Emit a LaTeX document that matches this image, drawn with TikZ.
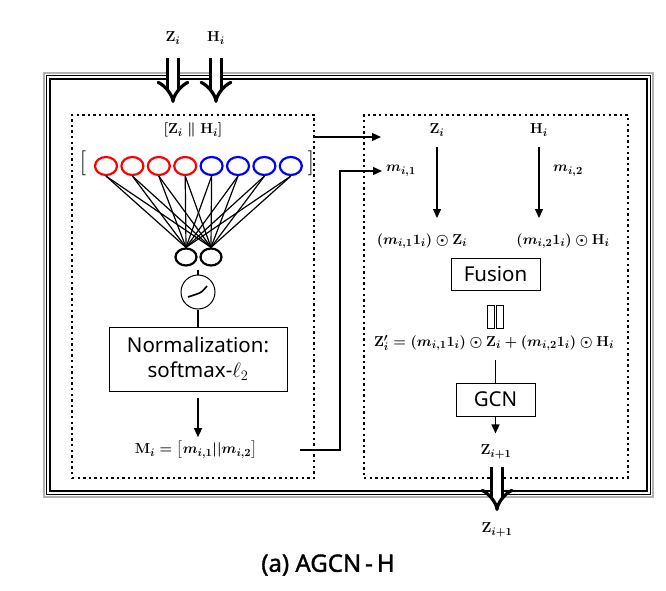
\documentclass[tikz,border=0pt]{standalone}
\usepackage{amsmath}
\usepackage{fontspec}
\newfontfamily\sansui{Noto Sans}
\newfontfamily\capfont[FakeBold=1.4]{Noto Sans}
\usetikzlibrary{positioning,arrows.meta,shapes.geometric}
\definecolor{cred}{HTML}{FF0000}
\definecolor{cblue}{HTML}{0000FF}
\tikzset{
  dotbox/.style={draw, line width=2.4pt, dash pattern=on 2.4pt off 3.2pt,
    minimum width=#1, minimum height=363pt, inner sep=0pt},
  unitnode/.style={ellipse, draw=#1, line width=2.2pt, minimum width=22pt,
    minimum height=18pt, inner sep=0pt},
  hidnode/.style={ellipse, draw, line width=2.2pt, minimum width=21pt,
    minimum height=17pt, inner sep=0pt},
  procbox/.style={draw, line width=0.9pt, align=center, inner sep=0pt,
    font=\sansui\fontsize{20.5}{25}\selectfont},
  mathlbl/.style={inner sep=1pt, font=\fontsize{15}{17}\selectfont\boldmath},
  flowarrow/.style={-{Triangle[length=9pt,width=8pt]}, line width=1.4pt},
  bigarrow/.style={-{Implies}, double, double distance=8pt, line width=3.2pt}
}

\begin{document}
\begin{tikzpicture}[x=1pt, y=-1pt]
  \useasboundingbox (0,0) rectangle (666,591);
  % frame
  \draw[gray!60, line width=1.6pt] (44,73) rectangle (653,497);
  \draw[line width=1.2pt] (46.5,75.5) rectangle (650.5,494.5);
  \draw[line width=1.2pt] (50,79) rectangle (647,491);

  % left block
  \node[dotbox=242pt] (lbox) at (193,296.5) {};
  \node[mathlbl] (cat) at (193,130) {$[\mathbf{Z}_i \parallel \mathbf{H}_i]$};
  \foreach \k in {1,...,8} {
    \ifnum\k<5 \def\ucol{cred}\else\def\ucol{cblue}\fi
    \node[unitnode=\ucol] (u\k) at ({106+(\k-1)*26.4},166) {};
  }
  \node[font=\fontsize{24}{26}\selectfont] (lbr) at (83,163) {$[$};
  \node[font=\fontsize{24}{26}\selectfont] (rbr) at (311,163) {$]$};
  \node[hidnode] (s1) at (186,257) {};
  \node[hidnode] (s2) at (211,257) {};
  \foreach \k in {1,...,8}
    \foreach \j in {1,2}
      \draw[line width=1.2pt] (u\k.south) -- (s\j.north);
  \node[circle, draw, line width=1pt, minimum size=34pt] (act) at (198,292) {};
  \draw[line width=1.6pt] ([shift={(-10,5)}]act.center) -- ([shift={(-1,2)}]act.center)
    .. controls ([shift={(4,0)}]act.center) .. ([shift={(9,-6)}]act.center);
  \draw[line width=1.4pt] (act.north) -- ++(0,-5);
  \node[procbox, minimum width=178pt, minimum height=64pt] (norm) at (198,359)
    {Normalization:\\softmax-$\ell_2$};
  \draw[line width=1.4pt] (act.south) -- (norm.north);
  \node[mathlbl] (mvec) at (196,450) {$\mathbf{M}_i = \big[m_{i,1}||m_{i,2}\big]$};
  \draw[flowarrow] ([yshift=-7pt]norm.south) -- ([yshift=3pt]norm.south |- mvec.north);

  % right block
  \node[dotbox=264pt] (rbox) at (496,296.5) {};
  \node[mathlbl] (zi) at (437,130) {$\mathbf{Z}_i$};
  \node[mathlbl] (hi) at (539,130) {$\mathbf{H}_i$};
  \node[mathlbl, anchor=west] (mi1) at (385,171) {$m_{i,1}$};
  \node[mathlbl, anchor=west] (mi2) at (552,171) {$m_{i,2}$};
  \node[mathlbl] (zm) at (422,241) {$(m_{i,1}\mathbf{1}_i)\odot\mathbf{Z}_i$};
  \node[mathlbl] (hm) at (563,241) {$(m_{i,2}\mathbf{1}_i)\odot\mathbf{H}_i$};
  \draw[flowarrow, shorten <=10pt] (zi.south) -- (zi.south |- 0,218);
  \draw[flowarrow, shorten <=10pt] (hi.south) -- (hi.south |- 0,218);
  \node[procbox, minimum width=89pt, minimum height=32pt] (fus) at (495.5,274) {Fusion};
  \draw[line width=0.9pt] (487,305) rectangle (494,328);
  \draw[line width=0.9pt] (496,305) rectangle (503,328);
  \node[mathlbl] (zeq) at (494,343)
    {$\mathbf{Z}'_i = (m_{i,1}\mathbf{1}_i)\odot\mathbf{Z}_i + (m_{i,2}\mathbf{1}_i)\odot\mathbf{H}_i$};
  \node[procbox, minimum width=79pt, minimum height=33pt] (gcn) at (495.5,399.5) {GCN};
  \draw[line width=1.4pt] (gcn.north) -- ++(0,-23);
  \node[mathlbl] (znext) at (496,452) {$\mathbf{Z}_{i+1}$};
  \draw[flowarrow] (gcn.south) -- ++(0,17);

  % connectors between blocks
  \coordinate (zarr) at (381,137);
  \draw[flowarrow] (lbox.east |- zarr) -- (zarr);
  \coordinate (mout) at (300,450);
  \draw[flowarrow] (mout) -- ++(40,0) |- ([xshift=-3pt]mi1.west);

  % inputs and output
  \node[mathlbl] (zin) at (173,38) {$\mathbf{Z}_i$};
  \node[mathlbl] (hin) at (216,38) {$\mathbf{H}_i$};
  \draw[bigarrow] (zin.south |- 0,58) -- (zin.south |- 0,103);
  \draw[bigarrow] (hin.south |- 0,58) -- (hin.south |- 0,103);
  \node[mathlbl] (zout) at (497,530) {$\mathbf{Z}_{i+1}$};
  \draw[bigarrow] (zout.north |- 0,467) -- (zout.north |- 0,511);

  \node[font=\capfont\fontsize{24}{28}\selectfont] (cap) at (328,565) {(a) AGCN\,-\,H};
\end{tikzpicture}
\end{document}
